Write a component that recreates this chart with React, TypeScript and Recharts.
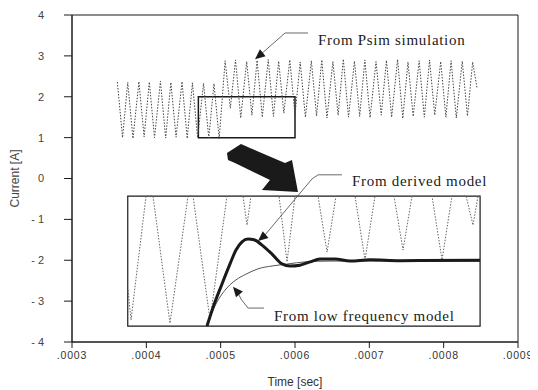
import { LineChart, Line, XAxis, YAxis, ReferenceArea, ReferenceDot } from "recharts";

// time is in microseconds, current in A
const xTicks = [300, 400, 500, 600, 700, 800, 900];
const xTickLabels = [".0003", ".0004", ".0005", ".0006", ".0007", ".0008", ".0009"];
const yTicks = [-4, -3, -2, -1, 0, 1, 2, 3, 4];
const yTickLabels = ["- 4", "- 3", "- 2", "- 1", "0", "1", "2", "3", "4"];

// Psim switching ripple, peak/valley vertices
const psimTime = [
  361, 368, 375, 382, 390, 397, 404, 411, 419, 426, 433, 440, 448, 455, 462, 469, 477, 484, 491, 498,
  506, 513, 520, 527, 535, 542, 549, 556, 564, 571, 578, 585, 593, 600, 607, 614, 622, 629, 636, 643,
  651, 658, 665, 672, 680, 687, 694, 701, 709, 716, 723, 730, 738, 745, 752, 759, 767, 774, 781, 788,
  796, 803, 810, 817, 825, 832, 839, 845,
];
const psimCurrent = [
  2.36, 1.0, 2.35, 0.98, 2.37, 1.02, 2.36, 1.0, 2.38, 0.99, 2.35, 1.01, 2.37, 0.98, 2.34, 1.0, 2.33, 0.99, 2.32, 0.97,
  2.88, 1.72, 2.9, 1.48, 2.86, 1.55, 2.89, 1.5, 2.91, 1.52, 2.87, 1.6, 2.9, 1.55, 2.85, 1.5, 2.88, 1.53, 2.9, 1.48,
  2.86, 1.55, 2.92, 1.5, 2.87, 1.52, 2.9, 1.49, 2.86, 1.55, 2.89, 1.5, 2.91, 1.47, 2.85, 1.52, 2.88, 1.5, 2.9, 1.55,
  2.86, 1.5, 2.88, 1.48, 2.87, 1.53, 2.85, 2.2,
];

// magnified view (drawn inside the lower box)
const insetTime = [
  375.3, 379.4, 399.6, 409.0, 431.8, 456.1, 462.8, 485.7, 508.5, 530.1, 535.4, 540.8, 578.5, 589.3, 600.0, 631.0,
  643.1, 655.2, 680.7, 694.2, 707.6, 733.2, 745.3, 757.4, 784.3, 797.8, 811.2, 830.1, 839.5, 846.2, 849.0,
];
const insetCurrent = [
  -2.73, -3.46, -0.43, -0.43, -3.54, -0.43, -0.43, -3.46, -0.43, -0.43, -1.14, -0.43, -0.43, -2.04, -0.43, -0.43,
  -1.8, -0.43, -0.43, -1.99, -0.43, -0.43, -1.75, -0.43, -0.43, -1.99, -0.43, -0.43, -1.14, -0.43, -0.43,
];
const derivedTime = [481.6, 491.0, 501.8, 512.6, 520.6, 528.7, 536.8, 544.9, 555.6, 569.1, 582.5, 593.3, 606.7, 620.2, 633.6, 653.8, 674.0, 700.9, 741.3, 849.0];
const derivedCurrent = [-3.61, -3.09, -2.58, -2.09, -1.75, -1.55, -1.48, -1.5, -1.63, -1.85, -2.09, -2.14, -2.12, -2.04, -1.97, -1.97, -2.02, -1.99, -2.01, -2.0];
const lowFreqTime = [481.6, 489.7, 499.1, 509.9, 520.6, 534.1, 550.2, 569.1, 590.6, 613.5, 647.1, 849.0];
const lowFreqCurrent = [-3.61, -3.22, -2.9, -2.65, -2.48, -2.34, -2.21, -2.14, -2.09, -2.04, -2.02, -2.02];

// leader lines for the notes
const psimLeaderTime = [617.5, 586.6, 552.9];
const psimLeaderCurrent = [3.56, 3.56, 3.02];
const derivedLeaderTime = [663.2, 631.0, 622.9, 558.3];
const derivedLeaderCurrent = [0.09, 0.09, -0.01, -1.41];
const lowLeaderTime = [558.3, 536.8, 527.4, 523.3];
const lowLeaderCurrent = [-3.17, -3.17, -2.95, -2.8];

const zip = (ts: number[], vs: number[]) => ts.map((t, i) => ({ t, v: vs[i] }));

const psim = zip(psimTime, psimCurrent);
const inset = zip(insetTime, insetCurrent);
const derived = zip(derivedTime, derivedCurrent);
const lowFreq = zip(lowFreqTime, lowFreqCurrent);

const ink = "#1a1a1a";
const serif = "'Liberation Serif', 'Times New Roman', serif";
const sans = "'Liberation Sans', Arial, sans-serif";

const arrowHead = (angle: number) => (p: any) => (
  <path d="M0,0 L-10,-4.5 L-10,4.5 Z" transform={`translate(${p.cx},${p.cy}) rotate(${angle})`} fill={ink} />
);

const note = (text: string) => (p: any) => (
  <text x={p.cx} y={p.cy} fontFamily={serif} fontSize={15} letterSpacing={0.7} fill={ink}>
    {text}
  </text>
);

// the big block arrow between the two boxes, tip at (0,0)
const bigArrow = (p: any) => (
  <path
    d="M-71,-39 L-57,-48 L-48,-44 L-13,-29 L-6,-32 L0,0 L-36,-2 L-28,-12 L-63,-29 L-70,-32 Z"
    transform={`translate(${p.cx},${p.cy})`}
    fill={ink}
  />
);

export default function App() {
  return (
    <div>
      <style>{"html,body{overflow:hidden}"}</style>
      <LineChart width={530} height={382} margin={{ top: 7, right: 20, bottom: 0, left: 0 }} style={{ overflow: "visible" }}>
        <XAxis
          xAxisId="b"
          type="number"
          dataKey="t"
          domain={[300, 900]}
          ticks={xTicks}
          allowDataOverflow
          height={48}
          tickSize={6}
          tickMargin={4}
          stroke={ink}
          tick={{ fontFamily: sans, fontSize: 10.5, fill: "#333", letterSpacing: 0.8 }}
          tickFormatter={(v: number) => xTickLabels[xTicks.indexOf(v)]}
          label={{ value: "Time [sec]", position: "insideBottom", offset: 4, fontFamily: sans, fontSize: 12, fill: "#333" }}
        />
        <YAxis
          yAxisId="l"
          type="number"
          domain={[-4, 4]}
          ticks={yTicks}
          allowDataOverflow
          width={64}
          tickSize={8}
          tickMargin={20}
          stroke={ink}
          tick={{ fontFamily: sans, fontSize: 11, fill: "#444" }}
          tickFormatter={(v: number) => yTickLabels[yTicks.indexOf(v)]}
          label={{ value: "Current [A]", angle: -90, position: "insideLeft", offset: 7, fontFamily: sans, fontSize: 12, fill: "#444", style: { textAnchor: "middle" } }}
        />

        {/* frame */}
        <ReferenceArea xAxisId="b" yAxisId="l" x1={300} x2={900} y1={-4} y2={4} fill="none" fillOpacity={0} stroke={ink} strokeWidth={1} />

        <ReferenceArea xAxisId="b" yAxisId="l" x1={470} x2={600} y1={1} y2={2} fill="none" stroke={ink} strokeWidth={1.5} fillOpacity={0} />
        <ReferenceArea xAxisId="b" yAxisId="l" x1={375} x2={849} y1={-3.61} y2={-0.43} fill="none" stroke={ink} strokeWidth={1.2} fillOpacity={0} />

        <Line xAxisId="b" yAxisId="l" data={psim} dataKey="v" type="linear" stroke="#444" strokeWidth={1} strokeDasharray="1.5 1.5" dot={false} isAnimationActive={false} />
        <Line xAxisId="b" yAxisId="l" data={inset} dataKey="v" type="linear" stroke="#666" strokeWidth={1} strokeDasharray="1.5 1.5" dot={false} isAnimationActive={false} />
        <Line xAxisId="b" yAxisId="l" data={lowFreq} dataKey="v" type="monotone" stroke="#555" strokeWidth={1} dot={false} isAnimationActive={false} />
        <Line xAxisId="b" yAxisId="l" data={derived} dataKey="v" type="monotone" stroke={ink} strokeWidth={3} dot={false} isAnimationActive={false} />

        <Line xAxisId="b" yAxisId="l" data={zip(psimLeaderTime, psimLeaderCurrent)} dataKey="v" stroke="#444" strokeWidth={0.8} dot={false} isAnimationActive={false} />
        <Line xAxisId="b" yAxisId="l" data={zip(derivedLeaderTime, derivedLeaderCurrent)} dataKey="v" stroke="#444" strokeWidth={0.8} dot={false} isAnimationActive={false} />
        <Line xAxisId="b" yAxisId="l" data={zip(lowLeaderTime, lowLeaderCurrent)} dataKey="v" stroke="#444" strokeWidth={0.8} dot={false} isAnimationActive={false} />

        <ReferenceDot xAxisId="b" yAxisId="l" x={546.2} y={2.92} shape={arrowHead(141)} />
        <ReferenceDot xAxisId="b" yAxisId="l" x={550.2} y={-1.53} shape={arrowHead(140)} />
        <ReferenceDot xAxisId="b" yAxisId="l" x={516.6} y={-2.65} shape={arrowHead(230)} />
        <ReferenceDot xAxisId="b" yAxisId="l" x={604.0} y={-0.33} shape={bigArrow} />

        <ReferenceDot xAxisId="b" yAxisId="l" x={631.0} y={3.27} shape={note("From Psim simulation")} />
        <ReferenceDot xAxisId="b" yAxisId="l" x={676.7} y={-0.18} shape={note("From derived model")} />
        <ReferenceDot xAxisId="b" yAxisId="l" x={571.8} y={-3.49} shape={note("From low frequency model")} />
      </LineChart>
    </div>
  );
}
